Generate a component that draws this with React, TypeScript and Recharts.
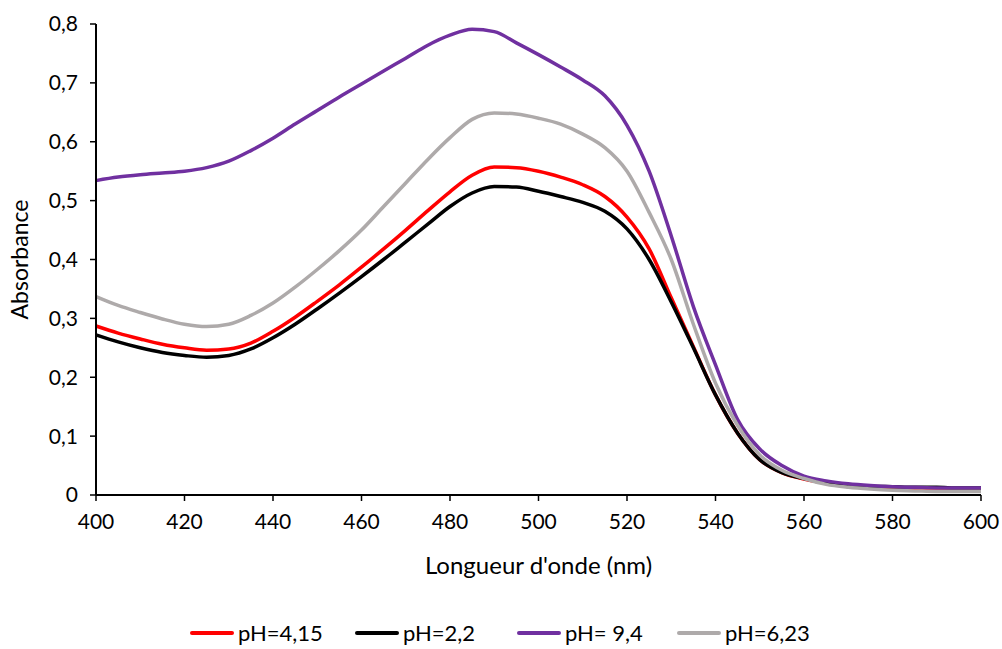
import { LineChart, Line, XAxis, YAxis } from "recharts";

// longueurs d'onde (nm), pas de 5 nm
const wavelengths = [
  400, 405, 410, 415, 420, 425, 430, 435, 440, 445, 450, 455, 460, 465, 470,
  475, 480, 485, 490, 495, 500, 505, 510, 515, 520, 525, 530, 535, 540, 545,
  550, 555, 560, 565, 570, 575, 580, 585, 590, 595, 600,
];

const ph415 = [
  0.287, 0.275, 0.265, 0.256, 0.25, 0.246, 0.248, 0.258, 0.278, 0.302, 0.329,
  0.357, 0.387, 0.418, 0.45, 0.483, 0.515, 0.543, 0.557, 0.556, 0.55, 0.54,
  0.527, 0.507, 0.472, 0.418, 0.335, 0.252, 0.17, 0.105, 0.06, 0.038, 0.027,
  0.02, 0.015, 0.013, 0.011, 0.01, 0.01, 0.01, 0.01,
];

const ph22 = [
  0.272, 0.26, 0.25, 0.242, 0.237, 0.234, 0.237, 0.248, 0.267, 0.29, 0.316,
  0.343, 0.371, 0.4, 0.43, 0.46, 0.49, 0.513, 0.524, 0.523, 0.516, 0.507,
  0.497, 0.482, 0.452, 0.4, 0.328, 0.25, 0.17, 0.105, 0.06, 0.038, 0.028,
  0.021, 0.017, 0.015, 0.014, 0.013, 0.013, 0.012, 0.012,
];

const ph94 = [
  0.534, 0.54, 0.544, 0.547, 0.55, 0.556, 0.567, 0.585, 0.606, 0.63, 0.653,
  0.676, 0.698, 0.72, 0.742, 0.764, 0.781, 0.791, 0.787, 0.768, 0.748, 0.727,
  0.705, 0.678, 0.628, 0.55, 0.44, 0.32, 0.221, 0.128, 0.078, 0.05, 0.032,
  0.024, 0.019, 0.016, 0.014, 0.013, 0.012, 0.012, 0.012,
];

const ph623 = [
  0.337, 0.322, 0.31, 0.299, 0.29, 0.286, 0.29, 0.305, 0.326, 0.353, 0.383,
  0.415, 0.45, 0.49, 0.53, 0.57, 0.607, 0.638, 0.649, 0.647, 0.64, 0.63,
  0.613, 0.59, 0.55, 0.48, 0.4, 0.29, 0.19, 0.118, 0.068, 0.042, 0.028,
  0.018, 0.013, 0.01, 0.008, 0.007, 0.006, 0.006, 0.006,
];

const xTicks = [400, 420, 440, 460, 480, 500, 520, 540, 560, 580, 600];
const yTicks = [0, 0.1, 0.2, 0.3, 0.4, 0.5, 0.6, 0.7, 0.8];

const series = [
  { key: "ph415", name: "pH=4,15", color: "#FF0000", values: ph415 },
  { key: "ph22", name: "pH=2,2", color: "#000000", values: ph22 },
  { key: "ph94", name: "pH= 9,4", color: "#7030A0", values: ph94 },
  { key: "ph623", name: "pH=6,23", color: "#AEAAAA", values: ph623 },
];

// position (px) de chaque entrée de la légende
const legendLeft = [190, 355, 517, 677];

const data = wavelengths.map((nm, i) => {
  const row: Record<string, number> = { nm };
  series.forEach((s) => {
    row[s.key] = s.values[i];
  });
  return row;
});

const FONT = "Lato, 'Open Sans', sans-serif";

const fmt = (v: number) => (v === 0 ? "0" : v.toFixed(1).replace(".", ","));

export default function App() {
  return (
    <div
      style={{
        position: "absolute",
        left: 0,
        top: 0,
        width: 1002,
        height: 649,
        background: "#fff",
        fontFamily: FONT,
      }}
    >
      <LineChart
        width={1002}
        height={649}
        data={data}
        margin={{ top: 24, right: 21, bottom: 0, left: 36 }}
      >
        <XAxis
          dataKey="nm"
          type="number"
          domain={[400, 600]}
          ticks={xTicks}
          interval={0}
          axisLine={{ stroke: "#000", strokeWidth: 2 }}
          tickLine={{ stroke: "#000", strokeWidth: 1.5 }}
          tickSize={6}
          tickMargin={13}
          tick={{ fill: "#000", fontSize: 21, fontFamily: FONT }}
          height={154}
          label={{
            value: "Longueur d'onde (nm)",
            position: "insideTop",
            offset: 62,
            fill: "#000",
            fontSize: 24,
            fontFamily: FONT,
          }}
        />
        <XAxis
          xAxisId="top"
          dataKey="nm"
          type="number"
          domain={[400, 600]}
          orientation="top"
          tick={false}
          tickLine={false}
          axisLine={{ stroke: "#000", strokeWidth: 1 }}
          height={0}
        />
        <YAxis
          type="number"
          domain={[0, 0.8]}
          ticks={yTicks}
          interval={0}
          tickFormatter={fmt}
          axisLine={{ stroke: "#000", strokeWidth: 2 }}
          tickLine={{ stroke: "#000", strokeWidth: 1.5 }}
          tickSize={6}
          tickMargin={12}
          tick={{ fill: "#000", fontSize: 21, fontFamily: FONT }}
          width={60}
          label={{
            value: "Absorbance",
            angle: -90,
            position: "insideLeft",
            offset: -16,
            fill: "#000",
            fontSize: 23,
            fontFamily: FONT,
            style: { textAnchor: "middle" },
          }}
        />
        <YAxis
          yAxisId="right"
          orientation="right"
          domain={[0, 0.8]}
          tick={false}
          tickLine={false}
          axisLine={{ stroke: "#000", strokeWidth: 1 }}
          width={0}
        />
        {series.map((s) => (
          <Line
            key={s.key}
            dataKey={s.key}
            name={s.name}
            type="monotone"
            stroke={s.color}
            strokeWidth={3.5}
            dot={false}
            activeDot={false}
            isAnimationActive={false}
          />
        ))}
      </LineChart>
      {series.map((s, i) => (
        <div
          key={s.key}
          style={{
            position: "absolute",
            top: 621,
            left: legendLeft[i],
            display: "flex",
            alignItems: "center",
            fontSize: 22,
            color: "#000",
            lineHeight: "24px",
            whiteSpace: "nowrap",
          }}
        >
          <div
            style={{
              width: 44,
              height: 4,
              background: s.color,
              borderRadius: 2,
              marginRight: 4,
            }}
          />
          <span>{s.name}</span>
        </div>
      ))}
    </div>
  );
}
